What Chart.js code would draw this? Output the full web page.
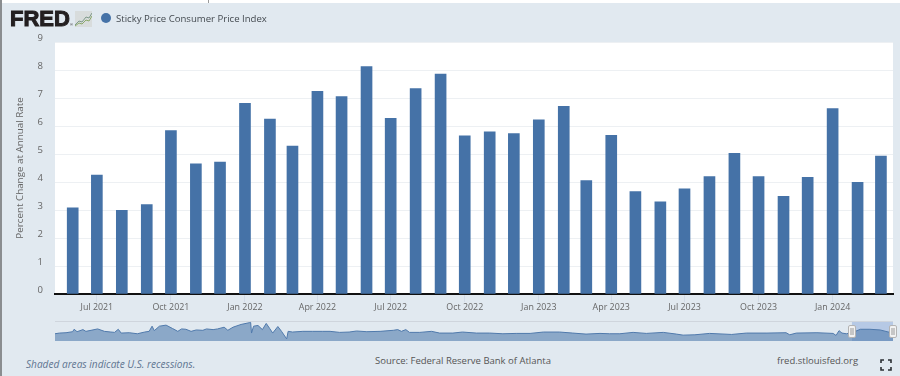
<!DOCTYPE html>
<html>
<head>
<meta charset="utf-8">
<title>Sticky Price Consumer Price Index</title>
<script src="https://cdn.jsdelivr.net/npm/chart.js@4"></script>
<style>
  html, body { margin: 0; padding: 0; }
  body { width: 900px; height: 376px; overflow: hidden; position: relative; background: #e1e9f0; font-family: "Open Sans", sans-serif; }
  canvas { position: absolute; left: 0; }
  #main { top: 0; }
  #nav { top: 318px; }
  .abs { position: absolute; white-space: nowrap; }
  #topstrip { left: 0; top: 0; width: 900px; height: 3px; background: #fff; }
  #topdiv { left: 208px; top: 0; width: 1px; height: 3px; background: #999; }
  #leftedge { left: 0; top: 0; width: 2px; height: 376px; background: #8a8d90; }
  #logo { left: 10px; top: 6px; font: bold 22px "Liberation Sans", sans-serif; color: #231f20; -webkit-text-stroke: 1px #231f20; line-height: 26px; }
  #reg { left: 70px; top: 22px; font: 4px "Liberation Sans", sans-serif; color: #231f20; }
  #spark { left: 75px; top: 11px; }
  #dot { left: 101px; top: 13px; width: 10px; height: 10px; border-radius: 50%; background: #4572a7; }
  #legend { left: 116px; top: 11px; font-size: 9.6px; line-height: 16px; color: #444a50; }
  #recess { left: 26px; top: 357px; font-size: 10.1px; line-height: 15px; font-style: italic; color: #5f7590; }
  #source { left: 375px; top: 353px; font-size: 9.5px; line-height: 15px; color: #555; }
  #site { left: 777px; top: 353px; font-size: 9.5px; line-height: 15px; color: #555; }
  #full { left: 880px; top: 359px; }
</style>
</head>
<body>
<canvas id="main" width="900" height="320"></canvas>
<canvas id="nav" width="900" height="26"></canvas>
<div class="abs" id="topstrip"></div>
<div class="abs" id="topdiv"></div>
<div class="abs" id="leftedge"></div>
<div class="abs" id="logo">FRED</div>
<div class="abs" id="reg">®</div>
<svg class="abs" id="spark" width="17" height="16">
  <rect width="17" height="16" fill="#d8dcdc"/>
  <polyline points="0,14 4,10 7,11 11,6 14,7 17,2" fill="none" stroke="#7f9a8a" stroke-width="1"/>
  <polyline points="0,15 4,12 7,13 11,9 14,10 17,5" fill="none" stroke="#8aa86a" stroke-width="1"/>
</svg>
<div class="abs" id="dot"></div>
<div class="abs" id="legend">Sticky Price Consumer Price Index</div>
<div class="abs" id="recess">Shaded areas indicate U.S. recessions.</div>
<div class="abs" id="source">Source: Federal Reserve Bank of Atlanta</div>
<div class="abs" id="site">fred.stlouisfed.org</div>
<svg class="abs" id="full" width="12" height="12">
  <path d="M1 4V1H4M8 1H11V4M11 8V11H8M4 11H1V8" fill="none" stroke="#2b2f33" stroke-width="1.6"/>
</svg>

<script>
// monthly bars, Jun 2021 - Mar 2024
const months = ['2021-06-01','2021-07-01','2021-08-01','2021-09-01','2021-10-01','2021-11-01','2021-12-01',
  '2022-01-01','2022-02-01','2022-03-01','2022-04-01','2022-05-01','2022-06-01','2022-07-01','2022-08-01','2022-09-01','2022-10-01','2022-11-01','2022-12-01',
  '2023-01-01','2023-02-01','2023-03-01','2023-04-01','2023-05-01','2023-06-01','2023-07-01','2023-08-01','2023-09-01','2023-10-01','2023-11-01','2023-12-01',
  '2024-01-01','2024-02-01','2024-03-01'];
const stickyValues = [3.08,4.25,2.99,3.19,5.84,4.65,4.71,
  6.81,6.25,5.28,7.24,7.05,8.12,6.27,7.34,7.85,5.65,5.79,5.73,
  6.22,6.70,4.05,5.67,3.66,3.29,3.76,4.19,5.02,4.19,3.49,4.17,
  6.62,3.99,4.93];

const tickDates = ['2021-07-01','2021-10-01','2022-01-01','2022-04-01','2022-07-01','2022-10-01','2023-01-01','2023-04-01','2023-07-01','2023-10-01','2024-01-01'];
const tickLabels = ['Jul 2021','Oct 2021','Jan 2022','Apr 2022','Jul 2022','Oct 2022','Jan 2023','Apr 2023','Jul 2023','Oct 2023','Jan 2024'];

// navigator strip
const navYears = [1966.3,1966.6,1967.05,1967.5,1967.6,1967.8,1968.2,1968.4,1968.75,1969.2,1969.66,1970.1,1970.35,1970.6,1970.8,1971.35,1971.9,1972.4,1972.7,1972.9,
  1973.05,1973.4,1973.85,1974.3,1974.65,1974.9,1975.2,1975.55,1975.9,1976.35,1976.6,1977.05,1977.35,1977.8,1978.05,1978.4,1978.95,1979.5,1979.6,1979.66,
  1979.8,1980.1,1980.4,1980.66,1980.9,1981.1,1981.45,1981.7,1982.05,1982.15,1982.45,1983.15,1983.8,1984.5,
  1985,1985.65,1986.3,1986.8,1987.5,1988.4,1989.3,1989.6,1989.85,1990.15,1990.4,1991.1,1991.9,1992.45,1993.35,1994,1994.95,1995.85,1996.75,1997.65,1998.6,1999.5,2000.6,2001.5,2002.4,2003.35,2004,
  2004.7,2005.6,2006.5,2007.65,2008.55,2009,2009.8,2010.8,2012.3,2013.3,2014.7,2016,2016.25,2016.7,2018.1,2019.2,2019.4,2019.6,2019.8,2020.1,2020.6,2021.05,2021.7,2022.4,2023.05,2023.27];
const navValues = [5.25,5.75,6,6.75,8.5,6.75,8.25,7,7.75,8.75,7,6.5,6.25,8.5,5.75,6,5.25,6.5,7,10.75,
  7.5,10.75,11.5,9,7,8.75,8.5,7,8,7.75,8.75,8.25,8.75,10,7.75,10,12,13.25,13.5,5.75,
  10.75,11.25,8.25,12.75,9,5.75,10.5,7,1.5,7,6.5,7,7,7,
  7,6.25,6.5,7.25,6.75,7,7.75,8.25,7,8.25,6.25,6.25,7,5.75,5.75,6.5,5.75,5.75,5.25,5.5,5.5,6.5,6.5,5.75,5,5.5,5.25,
  5.25,6.25,5.5,6.25,5,4.25,4.5,5.5,4.75,5.75,5.75,6,4.5,5.75,6,5.5,4,7.5,5.75,5.25,6.5,8.5,8.5,8,6.25,6.25];
const navDecades = [1970,1980,1990,2000,2010,2020];
const navSelection = [2020.48, 2023.27];

const plotBg = {
  id: 'plotBg',
  beforeDraw(chart) {
    const a = chart.chartArea;
    chart.ctx.fillStyle = '#fff';
    chart.ctx.fillRect(a.left, a.top, a.right - a.left, a.bottom - a.top);
  }
};

new Chart(document.getElementById('main'), {
  type: 'bar',
  data: {
    datasets: [{
      label: 'Sticky Price Consumer Price Index',
      data: months.map((m, i) => ({ x: Date.parse(m), y: stickyValues[i] })),
      backgroundColor: '#4572a7',
      barThickness: 11
    }]
  },
  options: {
    responsive: false,
    animation: false,
    layout: { padding: { top: 42, right: 7 } },
    plugins: { legend: { display: false }, tooltip: { enabled: false } },
    scales: {
      x: {
        type: 'linear',
        offset: false, // bar charts default this on, it squeezes a linear axis
        min: Date.parse('2021-05-10'),
        max: Date.parse('2024-03-16'),
        afterBuildTicks(scale) { scale.ticks = tickDates.map(d => ({ value: Date.parse(d) })); },
        afterFit(scale) { scale.height = 26; },
        border: { color: '#111', width: 2 },
        grid: { offset: false, drawOnChartArea: false, tickLength: 8, tickColor: '#d3dce8' },
        ticks: {
          autoSkip: false, maxRotation: 0, padding: 0,
          color: '#666', font: { family: 'Open Sans', size: 8.9 },
          callback: (v, i) => tickLabels[i]
        }
      },
      y: {
        min: 0, max: 9,
        afterFit(scale) { scale.width = 55; },
        border: { display: false },
        grid: { color: '#edf0f3', drawTicks: false },
        title: {
          display: true, text: 'Percent Change at Annual Rate',
          color: '#666', font: { family: 'Open Sans', size: 9.8 },
          padding: { top: 14, bottom: 0 }
        },
        ticks: {
          stepSize: 1, padding: 12, labelOffset: -4,
          color: '#666', font: { family: 'Open Sans', size: 9.5 }
        }
      }
    }
  },
  plugins: [plotBg]
});

const navDecor = {
  id: 'navDecor',
  beforeDatasetsDraw(chart) {
    const c = chart.ctx, a = chart.chartArea, x = chart.scales.x;
    c.fillStyle = '#b6c9e5';
    const s0 = x.getPixelForValue(navSelection[0]), s1 = x.getPixelForValue(navSelection[1]);
    c.fillRect(s0, a.top, s1 - s0, a.bottom - a.top);
    c.fillStyle = '#cfd5dd';
    c.fillRect(a.left, a.top, a.right - a.left, 1);
  },
  afterDatasetsDraw(chart) {
    const c = chart.ctx, a = chart.chartArea, x = chart.scales.x;
    navSelection.forEach(v => {
      const px = Math.round(x.getPixelForValue(v));
      c.fillStyle = '#f2f2f2';
      c.strokeStyle = '#b3b3b3';
      c.beginPath();
      c.roundRect(px - 3.5, a.top + 4.5, 7, 12, 1.5);
      c.fill();
      c.stroke();
      c.fillStyle = '#999';
      c.fillRect(px - 1.5, a.top + 7, 1, 7);
      c.fillRect(px + 0.5, a.top + 7, 1, 7);
    });
  }
};

new Chart(document.getElementById('nav'), {
  type: 'line',
  data: {
    datasets: [{
      data: navYears.map((yr, i) => ({ x: yr, y: navValues[i] })),
      borderColor: '#4f79ab',
      borderWidth: 1,
      backgroundColor: 'rgba(69,114,167,0.55)',
      pointRadius: 0,
      fill: 'origin'
    }]
  },
  options: {
    responsive: false,
    animation: false,
    layout: { padding: { left: 55, right: 7, top: 3, bottom: 3 } },
    plugins: { legend: { display: false }, tooltip: { enabled: false } },
    scales: {
      x: {
        type: 'linear',
        min: navYears[0],
        max: navYears[navYears.length - 1],
        afterBuildTicks(scale) { scale.ticks = navDecades.map(d => ({ value: d })); },
        afterFit(scale) { scale.height = 0; },
        border: { display: false },
        grid: { display: false, drawTicks: false },
        ticks: {
          autoSkip: false, maxRotation: 0, padding: -11, z: 1,
          color: 'rgba(95,105,125,0.4)', font: { family: 'Open Sans', size: 8 },
          callback: v => String(v)
        }
      },
      y: { display: false, min: 0, max: 14.5 }
    }
  },
  plugins: [navDecor]
});
</script>
</body>
</html>
